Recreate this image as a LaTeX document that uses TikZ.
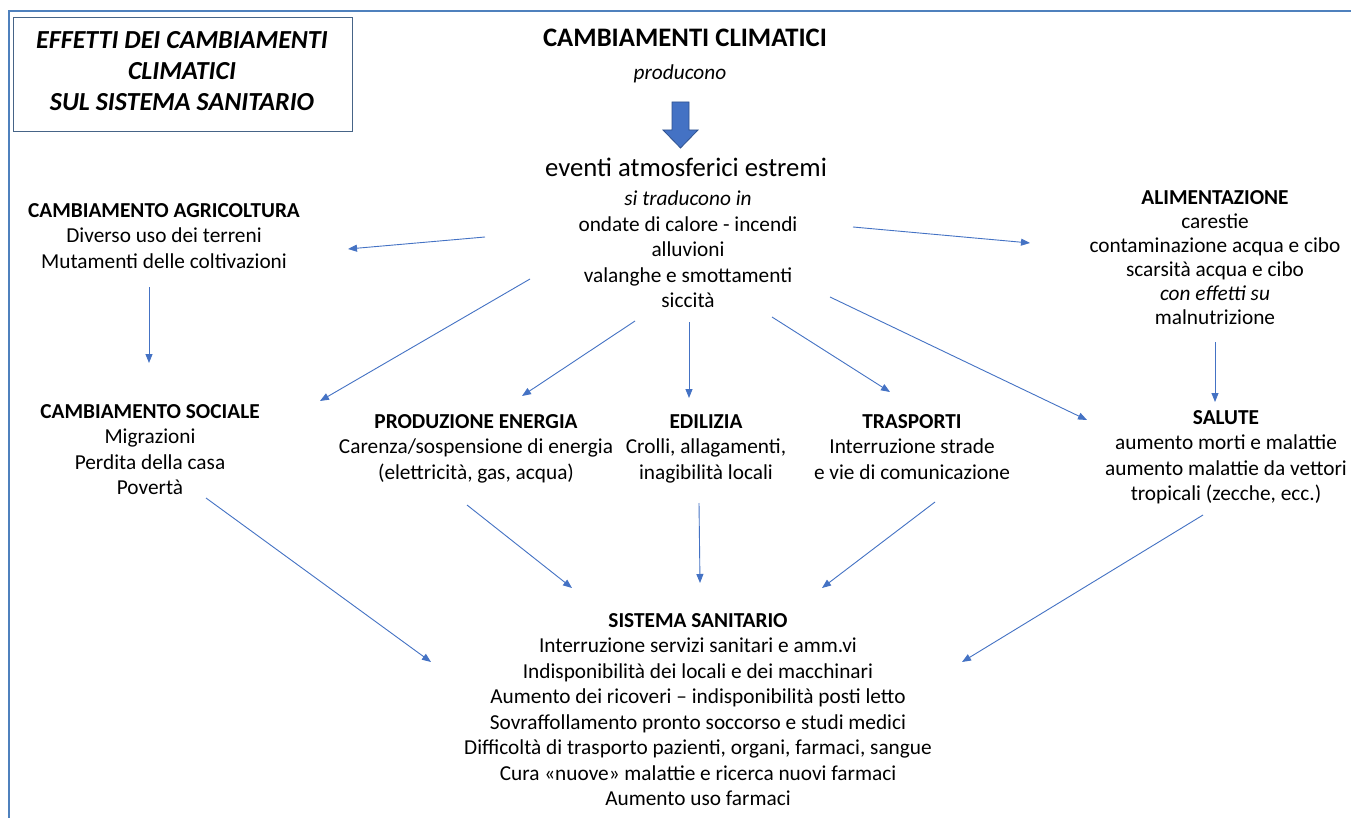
\documentclass[tikz,border=0pt]{standalone}
\usepackage{fontspec}
\setmainfont{Carlito}
\usetikzlibrary{arrows.meta}
\definecolor{linkblue}{RGB}{68,114,196}
\definecolor{frameblue}{RGB}{79,129,189}
\definecolor{boxedge}{RGB}{70,100,135}
\definecolor{arrowedge}{RGB}{47,82,143}
\newcommand\bodysize{\fontsize{21.3pt}{25.5pt}\selectfont}
\newcommand\largesize{\fontsize{26.7pt}{31pt}\selectfont}
\begin{document}
\begin{tikzpicture}[x=1pt,y=-1pt,
  blk/.style={inner sep=0pt, align=center, anchor=north, font=\bodysize},
  lnk/.style={draw=linkblue, line width=0.9pt, -{Triangle[length=9pt,width=7pt]}}]
\useasboundingbox (0,0) rectangle (1351,818);
\fill[white] (0,0) rectangle (1351,818);

% page frame
\draw[frameblue, line width=2.5pt] (9,818) -- (9,11) -- (1351,11);

% title box
\node[draw=boxedge, line width=1pt, minimum width=339pt, minimum height=114pt, inner sep=0pt] (titlebox) at (182.5,75) {};
\node[inner sep=0pt, align=center, anchor=north, font=\fontsize{26pt}{31pt}\selectfont\bfseries\itshape] (title) at (182,26.3)
  {\strut EFFETTI DEI CAMBIAMENTI\\CLIMATICI\\SUL SISTEMA SANITARIO};

% central cause
\node[anchor=base, font=\largesize\bfseries] (cc) at (685,47) {CAMBIAMENTI CLIMATICI};
\node[anchor=base, font=\bodysize\itshape] (prod) at (680,80) {producono};
\filldraw[fill=linkblue, draw=arrowedge, line width=0.8pt]
  (672,102) -- (689,102) -- (689,130) -- (698,130) -- (680.5,148) -- (663,130) -- (672,130) -- cycle;
\node[anchor=base, font=\largesize] (ev) at (686,177) {eventi atmosferici estremi};
\node[blk] (evd) at (688,187.65) {\strut\textit{si traducono in}\\ondate di calore - incendi\\alluvioni\\valanghe e smottamenti\\siccità};

% first ring of effects
\node[blk] (agr) at (164,199.15) {\strut\textbf{CAMBIAMENTO AGRICOLTURA}\\Diverso uso dei terreni\\Mutamenti delle coltivazioni};
\node[blk, font=\fontsize{21.3pt}{24pt}\selectfont] (ali) at (1215,187.2) {\strut\textbf{ALIMENTAZIONE}\\carestie\\contaminazione acqua e cibo\\scarsità acqua e cibo\\\textit{con effetti su}\\malnutrizione};
\node[blk] (soc) at (150,400.15) {\strut\textbf{CAMBIAMENTO SOCIALE}\\Migrazioni\\Perdita della casa\\Povertà};
\node[blk] (ene) at (476,410.15) {\strut\textbf{PRODUZIONE ENERGIA}\\Carenza/sospensione di energia\\(elettricità, gas, acqua)};
\node[blk] (edi) at (706,410.15) {\strut\textbf{EDILIZIA}\\Crolli, allagamenti,\\inagibilità locali};
\node[blk] (tra) at (912,410.15) {\strut\textbf{TRASPORTI}\\Interruzione strade\\e vie di comunicazione};
\node[blk] (sal) at (1226,406.15) {\strut\textbf{SALUTE}\\aumento morti e malattie\\aumento malattie da vettori\\tropicali (zecche, ecc.)};

% health system
\node[blk] (sis) at (698,609.15) {\strut\textbf{SISTEMA SANITARIO}\\Interruzione servizi sanitari e amm.vi\\Indisponibilità dei locali e dei macchinari\\Aumento dei ricoveri – indisponibilità posti letto\\Sovraffollamento pronto soccorso e studi medici\\Difficoltà di trasporto pazienti, organi, farmaci, sangue\\Cura «nuove» malattie e ricerca nuovi farmaci\\Aumento uso farmaci};

% connector end points
\coordinate (ev-agr-s) at (485,237);  \coordinate (ev-agr-e) at (348,249);
\coordinate (ev-ali-s) at (853,227);  \coordinate (ev-ali-e) at (1030,243);
\coordinate (agr-soc-s) at (149,287); \coordinate (agr-soc-e) at (149,363);
\coordinate (ev-soc-s) at (530,279);  \coordinate (ev-soc-e) at (320,401);
\coordinate (ev-ene-s) at (635,321);  \coordinate (ev-ene-e) at (522,396);
\coordinate (ev-edi-s) at (689,322);  \coordinate (ev-edi-e) at (689,398);
\coordinate (ev-tra-s) at (772,317);  \coordinate (ev-tra-e) at (890,392);
\coordinate (ev-sal-s) at (830,297);  \coordinate (ev-sal-e) at (1087,420);
\coordinate (ali-sal-s) at (1215,342); \coordinate (ali-sal-e) at (1215,402);
\coordinate (soc-sis-s) at (206,498); \coordinate (soc-sis-e) at (431,662);
\coordinate (ene-sis-s) at (467,505); \coordinate (ene-sis-e) at (572,588);
\coordinate (edi-sis-s) at (699,503); \coordinate (edi-sis-e) at (700,583);
\coordinate (tra-sis-s) at (935,502); \coordinate (tra-sis-e) at (822,588);
\coordinate (sal-sis-s) at (1203,515); \coordinate (sal-sis-e) at (962,662);

% connectors
\draw[lnk] (ev-agr-s) -- (ev-agr-e);
\draw[lnk] (ev-ali-s) -- (ev-ali-e);
\draw[lnk] (agr-soc-s) -- (agr-soc-e);
\draw[lnk] (ev-soc-s) -- (ev-soc-e);
\draw[lnk] (ev-ene-s) -- (ev-ene-e);
\draw[lnk] (ev-edi-s) -- (ev-edi-e);
\draw[lnk] (ev-tra-s) -- (ev-tra-e);
\draw[lnk] (ev-sal-s) -- (ev-sal-e);
\draw[lnk] (ali-sal-s) -- (ali-sal-e);
\draw[lnk] (soc-sis-s) -- (soc-sis-e);
\draw[lnk] (ene-sis-s) -- (ene-sis-e);
\draw[lnk] (edi-sis-s) -- (edi-sis-e);
\draw[lnk] (tra-sis-s) -- (tra-sis-e);
\draw[lnk] (sal-sis-s) -- (sal-sis-e);
\end{tikzpicture}
\end{document}
